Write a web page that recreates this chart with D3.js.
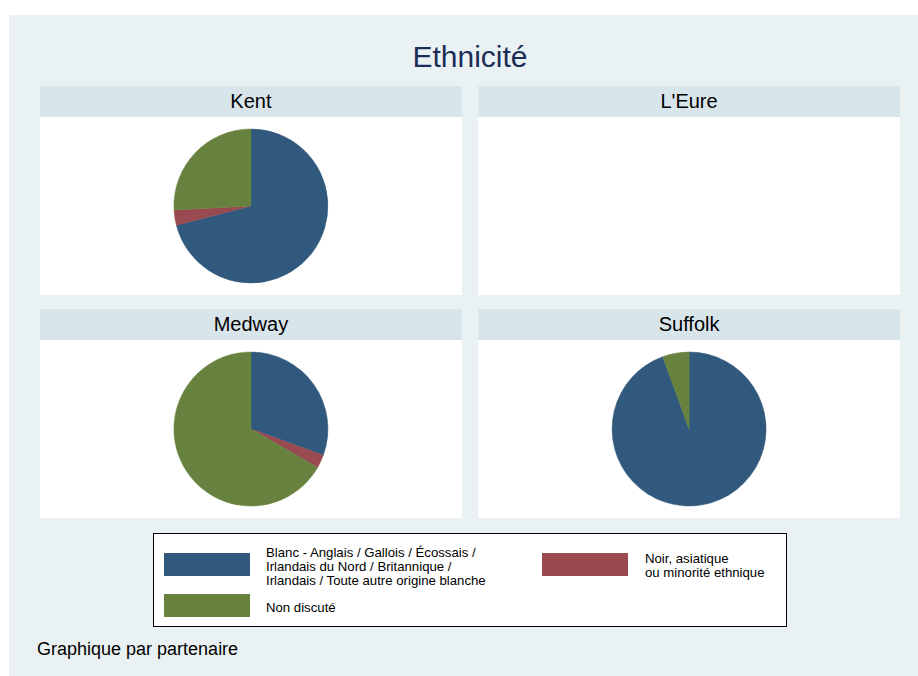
<!DOCTYPE html>
<html>
<head>
<meta charset="utf-8">
<script src="https://cdn.jsdelivr.net/npm/d3@7"></script>
<style>
  html, body { margin: 0; padding: 0; background: #ffffff; }
  svg { display: block; font-family: "Liberation Sans", Arial, Helvetica, sans-serif; }
</style>
</head>
<body>
<div id="chart"></div>
<script>
// ---- data ----
const title = "Ethnicité";
const note = "Graphique par partenaire";
const partners = ["Kent", "L'Eure", "Medway", "Suffolk"];
const categories = [
  "Blanc - Anglais / Gallois / Écossais / Irlandais du Nord / Britannique / Irlandais / Toute autre origine blanche",
  "Noir, asiatique ou minorité ethnique",
  "Non discuté"
];
const legendLines = [
  ["Blanc - Anglais / Gallois / Écossais /", "Irlandais du Nord / Britannique /", "Irlandais / Toute autre origine blanche"],
  ["Noir, asiatique", "ou minorité ethnique"],
  ["Non discuté"]
];
// counts per partner, one array per category
const blancValues = [22, 0, 11, 17];
const noirValues = [1, 0, 1, 0];
const nonDiscuteValues = [8, 0, 24, 1];
const colors = ["#31597d", "#994a50", "#67823f"];

// ---- layout ----
const W = 918, H = 676;
const svg = d3.select("#chart").append("svg").attr("width", W).attr("height", H);

svg.append("rect").attr("x", 9).attr("y", 15).attr("width", W - 9).attr("height", H - 15).attr("fill", "#eaf1f3");

svg.append("text").attr("x", 470).attr("y", 67).attr("text-anchor", "middle")
  .attr("font-size", 30).attr("fill", "#1c2d58").text(title);

const colX = d3.scaleBand().domain([0, 1]).range([40, 900]).paddingInner(16 / 430);
const rowTops = [86, 309];
const headerH = 31, plotH = 178;
const radius = 77;

const pie = d3.pie().sort(null).startAngle(0).endAngle(2 * Math.PI).value(d => d.v);
const arc = d3.arc().innerRadius(0).outerRadius(radius);

partners.forEach((p, i) => {
  const col = i % 2, row = Math.floor(i / 2);
  const x0 = colX(col), w = colX.bandwidth(), y0 = rowTops[row];
  const g = svg.append("g");
  g.append("rect").attr("x", x0).attr("y", y0).attr("width", w).attr("height", headerH).attr("fill", "#d8e5eb");
  g.append("text").attr("x", x0 + w / 2).attr("y", y0 + 22).attr("text-anchor", "middle")
    .attr("font-size", 20).attr("fill", "#000").text(p);
  g.append("rect").attr("x", x0).attr("y", y0 + headerH).attr("width", w).attr("height", plotH).attr("fill", "#ffffff");
  const vals = [
    { c: 0, v: blancValues[i] },
    { c: 1, v: noirValues[i] },
    { c: 2, v: nonDiscuteValues[i] }
  ];
  const total = d3.sum(vals, d => d.v);
  if (total > 0) {
    const pg = g.append("g").attr("transform", `translate(${x0 + w / 2},${y0 + headerH + plotH / 2})`);
    pg.selectAll("path").data(pie(vals).filter(d => d.data.v > 0)).enter().append("path")
      .attr("d", arc).attr("fill", d => colors[d.data.c])
      .attr("stroke", d => colors[d.data.c]).attr("stroke-width", 0.5);
  }
});

// ---- legend ----
const lg = svg.append("g");
lg.append("rect").attr("x", 153.5).attr("y", 533.5).attr("width", 633).attr("height", 93)
  .attr("fill", "#ffffff").attr("stroke", "#000").attr("stroke-width", 1);
const legendItems = [
  { c: 0, sx: 164, sy: 553, tx: 266, ty: 556.5 },
  { c: 1, sx: 542, sy: 553, tx: 645, ty: 562.5 },
  { c: 2, sx: 164, sy: 594, tx: 266, ty: 611.5 }
];
legendItems.forEach(it => {
  lg.append("rect").attr("x", it.sx).attr("y", it.sy).attr("width", 86).attr("height", 23).attr("fill", colors[it.c]);
  const t = lg.append("text").attr("x", it.tx).attr("y", it.ty).attr("font-size", 13.2).attr("fill", "#000");
  legendLines[it.c].forEach((line, k) => {
    t.append("tspan").attr("x", it.tx).attr("y", it.ty + k * 14).text(line);
  });
});

svg.append("text").attr("x", 37).attr("y", 655).attr("font-size", 18).attr("fill", "#000").text(note);
</script>
</body>
</html>
